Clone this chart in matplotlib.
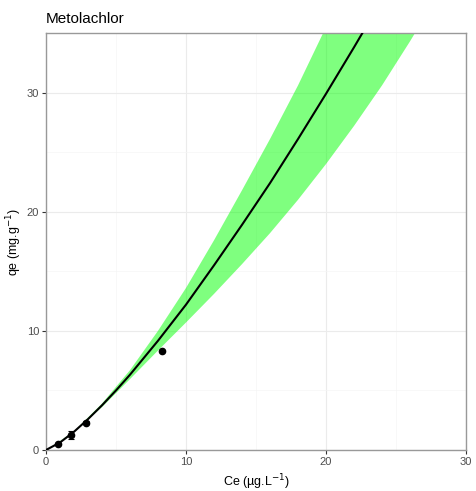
import matplotlib
matplotlib.use("Agg")
import matplotlib.pyplot as plt
import numpy as np

plt.rcParams['font.family'] = ['Liberation Sans', 'DejaVu Sans']

# Observed data
ce_obs = [0.88, 1.79, 2.83, 8.3]
qe_obs = [0.47, 1.25, 2.29, 8.32]
qe_err = [0.08, 0.35, 0.12, 0.0]

# Fitted curve and confidence band
x_fit = [0, 1, 2, 3, 4, 5, 6, 8, 10, 12, 14, 16, 18, 20, 22, 24]
y_fit = [0, 0.63, 1.53, 2.59, 3.75, 5.0, 6.32, 9.17, 12.2, 15.5, 18.9, 22.4, 26.1, 29.9, 33.8, 37.8]

x_band = [0, 2, 4, 6, 8, 10, 12, 14, 16, 18, 20, 22, 24, 26, 28]
y_upper = [0, 1.55, 3.9, 6.7, 10.0, 13.6, 17.6, 21.8, 26.1, 30.6, 35.5, 40.5, 45.6, 51.0, 56.5]
y_lower = [0, 1.5, 3.6, 5.95, 8.35, 10.7, 13.1, 15.6, 18.2, 21.0, 24.0, 27.2, 30.6, 34.3, 38.2]

x_ticks = [0, 10, 20, 30]
y_ticks = [0, 10, 20, 30]

fig = plt.figure(figsize=(4.77, 4.91), dpi=100)
ax = fig.add_axes([0.0964, 0.0835, 0.977 - 0.0964, 0.9328 - 0.0835])

ax.fill_between(x_band, y_lower, y_upper, color='#00FF00', alpha=0.5, linewidth=0, zorder=2)
ax.plot(x_fit, y_fit, color='black', lw=1.5, zorder=3, solid_capstyle='butt')
ax.errorbar(ce_obs, qe_obs, yerr=qe_err, fmt='o', color='black', ms=4.5,
            elinewidth=0.8, capsize=2.5, capthick=0.8, zorder=4)

ax.set_xlim(0, 30)
ax.set_ylim(0, 35)
ax.set_xticks(x_ticks)
ax.set_yticks(y_ticks)
ax.set_xticks([5, 15, 25], minor=True)
ax.set_yticks([5, 15, 25, 35], minor=True)
ax.grid(True, which='major', color='#EBEBEB', lw=0.8, zorder=0)
ax.grid(True, which='minor', color='#F5F5F5', lw=0.5, zorder=0)
ax.set_axisbelow(True)
ax.tick_params(which='major', length=3, width=0.8, color='#333333', labelsize=8, labelcolor='#4D4D4D', pad=2)
ax.tick_params(which='minor', length=0)
for s in ax.spines.values():
    s.set_color('#999999')
    s.set_linewidth(1.0)

ax.set_xlabel('Ce (µg.L$^{-1}$)', fontsize=9, color='black', labelpad=4)
ax.set_ylabel('qe (mg.g$^{-1}$)', fontsize=9, color='black', labelpad=2)
ax.set_title('Metolachlor', fontsize=11, loc='left', pad=7, color='black')

fig.savefig('out.png', dpi=100, facecolor='white')
